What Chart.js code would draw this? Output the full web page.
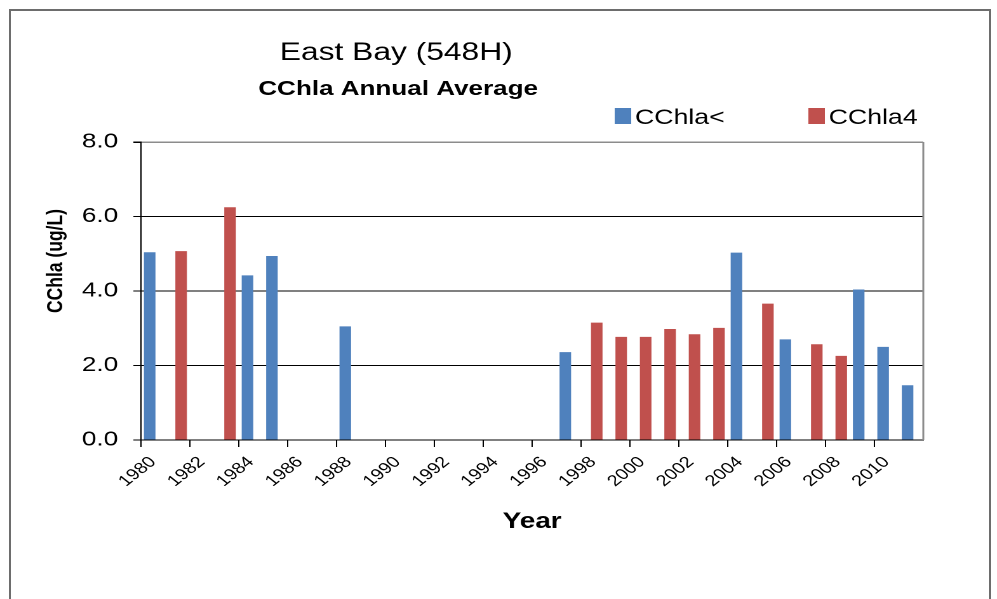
<!DOCTYPE html>
<html>
<head>
<meta charset="utf-8">
<script src="https://cdn.jsdelivr.net/npm/chart.js@4.4.1/dist/chart.umd.min.js"></script>
<style>
  html, body { margin: 0; padding: 0; background: #fff; }
  body { width: 997px; height: 599px; overflow: hidden; position: relative; }
  #frame { position: absolute; left: 9px; top: 9px; width: 978px; height: 640px; border: 2px solid #6d6d6d; }
  /* the chart is laid out narrow and stretched sideways */
  #stretch { position: absolute; left: 0; top: 0; width: 785px; height: 599px; transform: scaleX(1.27); transform-origin: 0 0; }
</style>
</head>
<body>
<div id="frame"></div>
<div id="stretch"><canvas id="chart" width="785" height="599"></canvas></div>
<script>
const chartTitle = "East Bay (548H)";
const chartSubtitle = "CChla Annual Average";
const yTitle = "CChla (ug/L)";
const xTitle = "Year";

const years = [
    "1980", "1981", "1982", "1983", "1984", "1985", "1986", "1987",
    "1988", "1989", "1990", "1991", "1992", "1993", "1994", "1995",
    "1996", "1997", "1998", "1999", "2000", "2001", "2002", "2003",
    "2004", "2005", "2006", "2007", "2008", "2009", "2010", "2011"
];

// CChla< (blue)
const chlaLess = [
    5.04, null, null, null, 4.42, 4.94, null, null,
    3.05, null, null, null, null, null, null, null,
    null, 2.36, null, null, null, null, null, null,
    5.03, null, 2.70, null, null, 4.04, 2.50, 1.47
];

// CChla4 (red)
const chla4 = [
    null, 5.07, null, 6.25, null, null, null, null,
    null, null, null, null, null, null, null, null,
    null, null, 3.15, 2.77, 2.77, 2.98, 2.84, 3.01,
    null, 3.66, null, 2.57, 2.26, null, null, null
];

const yMax = 8;
const yStep = 2;

const FONT = "'Liberation Sans', Arial, sans-serif";
Chart.defaults.font.family = FONT;
Chart.defaults.color = "#000";

// Titles, legend and the grey right edge of the plot box
const decorations = {
    id: "decorations",
    afterDraw(chart) {
        const { ctx, chartArea: a } = chart;
        ctx.save();

        ctx.strokeStyle = "#8c8c8c";
        ctx.lineWidth = 1.5;
        ctx.beginPath();
        ctx.moveTo(a.right, a.top);
        ctx.lineTo(a.right, a.bottom);
        ctx.stroke();

        ctx.fillStyle = "#000";
        ctx.textAlign = "center";
        ctx.textBaseline = "alphabetic";
        ctx.font = `25px ${FONT}`;
        ctx.fillText(chartTitle, 312, 60);
        ctx.font = `bold 20.5px ${FONT}`;
        ctx.fillText(chartSubtitle, 313.5, 95);

        ctx.save();
        ctx.translate(49, 261);
        ctx.rotate(-Math.PI / 2);
        ctx.font = `bold 17.5px ${FONT}`;
        ctx.fillText(yTitle, 0, 0);
        ctx.restore();

        // legend
        const legendX = [484, 636.5];
        ctx.textAlign = "left";
        ctx.font = `21px ${FONT}`;
        chart.data.datasets.forEach((ds, i) => {
            const x = legendX[i];
            ctx.fillStyle = ds.backgroundColor;
            ctx.fillRect(x, 108, 13, 16);
            ctx.fillStyle = "#000";
            ctx.fillText(ds.label, x + 16, 124);
        });

        ctx.restore();
    }
};

new Chart(document.getElementById("chart"), {
    type: "bar",
    data: {
        labels: years,
        datasets: [
            {
                label: "CChla<",
                data: chlaLess,
                backgroundColor: "#4f81bd",
                categoryPercentage: 0.573,
                barPercentage: 1.65
            },
            {
                label: "CChla4",
                data: chla4,
                backgroundColor: "#c0504d",
                categoryPercentage: 0.573,
                barPercentage: 1.65
            }
        ]
    },
    options: {
        responsive: false,
        devicePixelRatio: 2,
        animation: false,
        layout: {
            padding: { left: 0, right: 58, top: 142, bottom: 64 }
        },
        plugins: {
            legend: { display: false },
            title: { display: false },
            tooltip: { enabled: false }
        },
        scales: {
            x: {
                offset: true,
                grid: {
                    offset: true,
                    drawOnChartArea: false,
                    tickLength: 7,
                    color: c => c.index % 2 === 0 ? "#000" : "rgba(0,0,0,0)"
                },
                border: { color: "#000", width: 1 },
                ticks: {
                    autoSkip: false,
                    maxRotation: 45,
                    minRotation: 45,
                    padding: 6,
                    font: { size: 15.5 },
                    callback: (v, i) => i % 2 === 0 ? years[i] : ""
                },
                title: {
                    display: true,
                    text: xTitle,
                    font: { size: 22, weight: "bold" },
                    padding: 0
                },
                afterFit: s => { s.height = 95; }
            },
            y: {
                min: 0,
                max: yMax,
                ticks: {
                    stepSize: yStep,
                    padding: 12,
                    font: { size: 20.5 },
                    callback: v => v.toFixed(1)
                },
                grid: {
                    color: c => c.tick && c.tick.value === yMax ? "#8c8c8c" : "#000",
                    lineWidth: c => c.tick && c.tick.value === yMax ? 1.5 : 1,
                    tickColor: "#000",
                    tickLength: 6
                },
                border: { color: "#000", width: 1 },
                afterFit: s => { s.width = 111; }
            }
        }
    },
    plugins: [decorations]
});
</script>
</body>
</html>
